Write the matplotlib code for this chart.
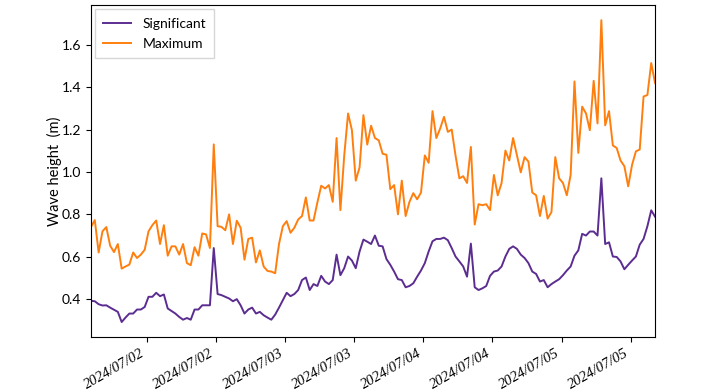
import numpy as np
import pandas as pd
import matplotlib
matplotlib.use("Agg")
import matplotlib.pyplot as plt
import matplotlib.dates as mdates

# wave heights, one value every 40 minutes
significant = [
    0.392, 0.39, 0.376, 0.37, 0.371, 0.36, 0.35, 0.34, 0.292, 0.313,
    0.332, 0.332, 0.351, 0.351, 0.363, 0.411, 0.411, 0.43, 0.414, 0.422,
    0.356, 0.344, 0.332, 0.316, 0.303, 0.311, 0.303, 0.351, 0.351, 0.371,
    0.371, 0.371, 0.641, 0.424, 0.419, 0.411, 0.403, 0.39, 0.40, 0.371,
    0.332, 0.351, 0.36, 0.332, 0.34, 0.324, 0.313, 0.303, 0.327, 0.36,
    0.395, 0.43, 0.414, 0.424, 0.443, 0.49, 0.502, 0.443, 0.471, 0.462,
    0.51, 0.483, 0.471, 0.49, 0.61, 0.513, 0.546, 0.601, 0.582, 0.546,
    0.625, 0.681, 0.671, 0.66, 0.70, 0.652, 0.649, 0.589, 0.562, 0.53,
    0.494, 0.49, 0.456, 0.462, 0.475, 0.506, 0.535, 0.57, 0.625, 0.673,
    0.684, 0.684, 0.69, 0.678, 0.641, 0.601, 0.578, 0.554, 0.506, 0.662,
    0.456, 0.443, 0.451, 0.462, 0.51, 0.53, 0.535, 0.554, 0.601, 0.637,
    0.649, 0.637, 0.61, 0.594, 0.57, 0.53, 0.519, 0.483, 0.49, 0.456,
    0.471, 0.483, 0.494, 0.513, 0.535, 0.554, 0.605, 0.63, 0.708, 0.70,
    0.719, 0.719, 0.70, 0.97, 0.66, 0.668, 0.601, 0.599, 0.578, 0.541,
    0.562, 0.582, 0.601, 0.657, 0.684, 0.744, 0.819, 0.789,
]
maximum = [
    0.74, 0.773, 0.62, 0.72, 0.74, 0.652, 0.622, 0.66, 0.544, 0.554,
    0.563, 0.62, 0.594, 0.61, 0.633, 0.72, 0.749, 0.771, 0.66, 0.749,
    0.605, 0.649, 0.649, 0.61, 0.66, 0.57, 0.56, 0.645, 0.605, 0.71,
    0.705, 0.641, 1.13, 0.744, 0.741, 0.725, 0.80, 0.66, 0.77, 0.737,
    0.586, 0.684, 0.69, 0.573, 0.63, 0.554, 0.533, 0.53, 0.522, 0.66,
    0.744, 0.768, 0.713, 0.737, 0.776, 0.792, 0.88, 0.771, 0.771, 0.856,
    0.935, 0.922, 0.938, 0.859, 1.16, 0.82, 1.078, 1.276, 1.197, 0.959,
    1.022, 1.268, 1.129, 1.218, 1.16, 1.149, 1.086, 1.081, 0.919, 0.938,
    0.80, 0.959, 0.792, 0.859, 0.90, 0.871, 0.903, 1.078, 1.043, 1.287,
    1.16, 1.205, 1.26, 1.189, 1.20, 1.078, 0.97, 0.98, 0.948, 1.118,
    0.752, 0.848, 0.843, 0.848, 0.82, 0.986, 0.89, 0.948, 1.101, 1.054,
    1.16, 1.078, 0.998, 1.07, 1.049, 0.903, 0.89, 0.792, 0.887, 0.78,
    0.811, 1.07, 0.97, 0.948, 0.89, 0.986, 1.427, 1.09, 1.308, 1.276,
    1.197, 1.43, 1.229, 1.716, 1.22, 1.287, 1.125, 1.113, 1.054, 1.027,
    0.932, 1.033, 1.097, 1.106, 1.356, 1.363, 1.514, 1.419,
]
times = pd.date_range("2024-07-01 14:15", periods=len(maximum), freq="40min")

plt.rcParams["font.family"] = ["Lato", "DejaVu Sans"]

fig = plt.figure(figsize=(7.26, 3.92), dpi=100)
ax = fig.add_axes([0.1253, 0.140, 0.7770, 0.847])

ax.plot(times, significant, color="#5c2d91", lw=1.4, label="Significant")
ax.plot(times, maximum, color="#ff7f0e", lw=1.4, label="Maximum")

ax.set_xlim(times[0], times[-1])
ax.set_ylabel("Wave height  (m)", fontsize=10.5, labelpad=0)
ax.set_yticks([0.4, 0.6, 0.8, 1.0, 1.2, 1.4, 1.6])
ax.tick_params(axis="y", labelsize=10)

ax.xaxis.set_major_locator(mdates.HourLocator(byhour=[0, 12]))
ax.xaxis.set_major_formatter(mdates.DateFormatter("%Y/%m/%d"))
for lab in ax.get_xticklabels():
    lab.set_rotation(30)
    lab.set_ha("right")
    lab.set_fontsize(10.5)
    lab.set_family("Liberation Serif")
    lab.set_style("italic")

ax.legend(loc="upper left", fontsize=10, handlelength=2.0, borderpad=0.6,
          labelspacing=0.6, borderaxespad=0.3, fancybox=False)

fig.savefig("out.png", dpi=100)
